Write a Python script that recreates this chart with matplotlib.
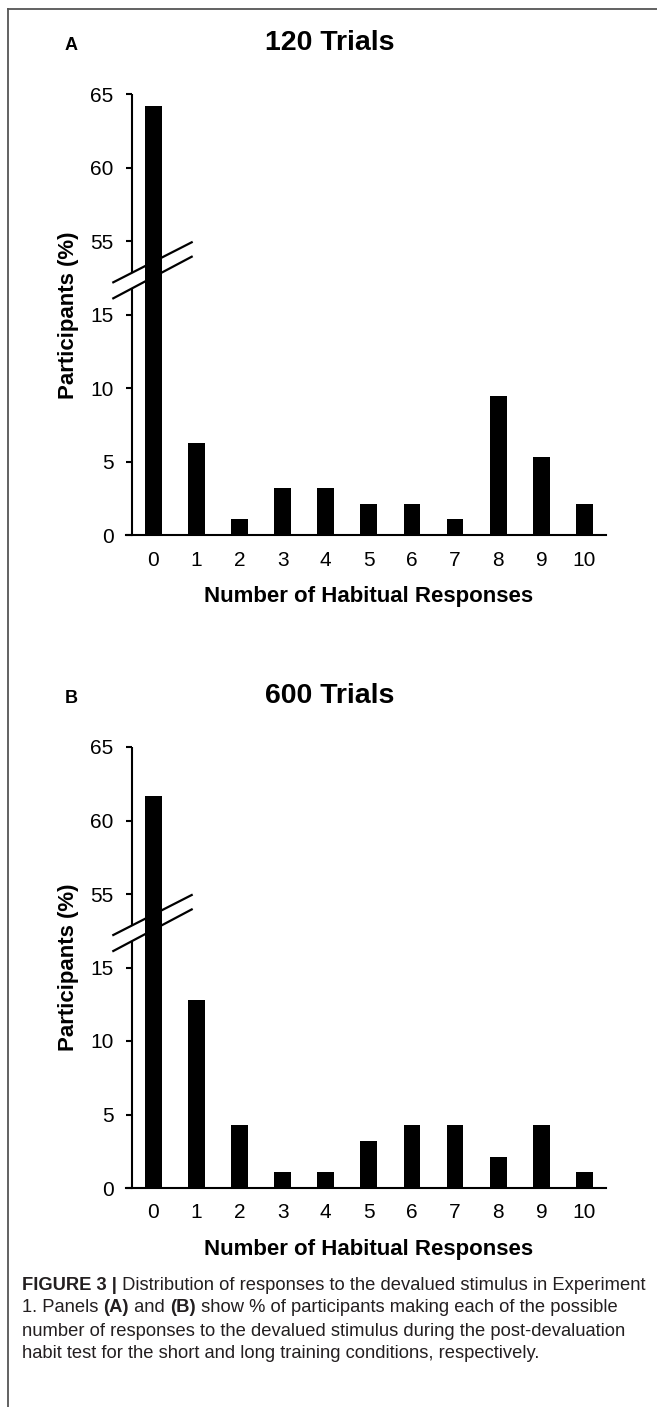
import numpy as np
import matplotlib
matplotlib.use('Agg')
import matplotlib.pyplot as plt
from matplotlib.lines import Line2D

plt.rcParams['font.family'] = ['Liberation Sans', 'DejaVu Sans']

responses = list(range(11))
tick_labels = [str(r) for r in responses]
pct_120 = [64.2, 6.3, 1.1, 3.2, 3.2, 2.1, 2.1, 1.1, 9.5, 5.3, 2.1]
pct_600 = [61.7, 12.8, 4.3, 1.1, 1.1, 3.2, 4.3, 4.3, 2.1, 4.3, 1.1]
panel_titles = ['120 Trials', '600 Trials']
panel_letters = ['A', 'B']
y_ticks = [0, 5, 10, 15, 55, 60, 65]

W, H = 657, 1407


def fx(px):
    return px / W


def fy(py):
    return 1 - py / H


# broken y axis: 17.5 .. 52.5 squeezed out
def fwd(y):
    y = np.asarray(y, dtype=float)
    return np.where(y <= 17.5, y, np.where(y >= 52.5, y - 35, 17.5))


def inv(t):
    t = np.asarray(t, dtype=float)
    return np.where(t <= 17.5, t, t + 35)


fig = plt.figure(figsize=(W / 100, H / 100), dpi=100)

# frame of the figure page (top and left)
fig.add_artist(Line2D([fx(7.5), 1], [fy(9), fy(9)], transform=fig.transFigure, color='#555555', lw=1.3))
fig.add_artist(Line2D([fx(7.5), fx(7.5)], [fy(9), 0], transform=fig.transFigure, color='#555555', lw=1.3))

ax_left, ax_right = 131.7, 606
for i, vals in enumerate([pct_120, pct_600]):
    off = i * 652.7
    top, bottom = 94.3 + off, 535.3 + off
    ax = fig.add_axes([fx(ax_left), fy(bottom), (ax_right - ax_left) / W, (bottom - top) / H])
    ax.set_yscale('function', functions=(fwd, inv))
    ax.bar(responses, vals, width=0.39, color='black', zorder=2)
    ax.set_xlim(-0.5, 10.5)
    ax.set_ylim(0, 65)
    ax.set_yticks(y_ticks)
    ax.set_yticklabels([str(t) for t in y_ticks])
    ax.set_xticks(responses)
    ax.set_xticklabels(tick_labels)
    ax.spines['top'].set_visible(False)
    ax.spines['right'].set_visible(False)
    for s in ['left', 'bottom']:
        ax.spines[s].set_linewidth(1.5)
    ax.spines['left'].set_bounds(0, 16.75)
    ax.spines['bottom'].set_bounds(-0.632, 10.5)
    ax.plot([-0.5, -0.5], [52.85, 65], color='black', lw=1.5, clip_on=False, solid_capstyle='butt')
    ax.tick_params(axis='x', length=0, pad=11, labelsize=15)
    ax.tick_params(axis='y', length=4.1, width=1.5, pad=9, labelsize=15)
    # break marks
    ax.plot([-0.0388, 0.1265], [0.5737, 0.6644], transform=ax.transAxes, color='black', lw=1.6, clip_on=False, zorder=5)
    ax.plot([-0.0388, 0.1265], [0.5374, 0.6317], transform=ax.transAxes, color='black', lw=1.6, clip_on=False, zorder=5)

    fig.text(fx(71), fy(46 + off), panel_letters[i], fontsize=13, fontweight='bold', ha='center', va='center')
    fig.text(fx(330), fy(43.5 + off), panel_titles[i], fontsize=20.5, fontweight='bold', ha='center', va='center')
    fig.text(fx(68.75), fy((top + bottom) / 2), 'Participants (%)', fontsize=16, fontweight='bold',
             rotation=90, ha='center', va='center')
    fig.text(fx((ax_left + ax_right) / 2), fy(597 + off), 'Number of Habitual Responses', fontsize=16,
             fontweight='bold', ha='center', va='center')

# caption, with bold pieces
caption = [
    [('FIGURE 3 |', 'bold'), (' Distribution of responses to the devalued stimulus in Experiment', 'normal')],
    [('1. Panels ', 'normal'), ('(A)', 'bold'), (' and ', 'normal'), ('(B)', 'bold'),
     (' show % of participants making each of the possible', 'normal')],
    [('number of responses to the devalued stimulus during the post-devaluation', 'normal')],
    [('habit test for the short and long training conditions, respectively.', 'normal')],
]
renderer = fig.canvas.get_renderer()
line_y = [1285, 1308, 1331, 1354]
for parts, yy in zip(caption, line_y):
    x = fx(22)
    for txt, wt in parts:
        t = fig.text(x, fy(yy), txt, fontsize=13.2, fontweight=wt, color='#231f20', ha='left', va='center')
        bb = t.get_window_extent(renderer)
        x = bb.x1 / fig.bbox.width

fig.savefig('out.png', dpi=100)
